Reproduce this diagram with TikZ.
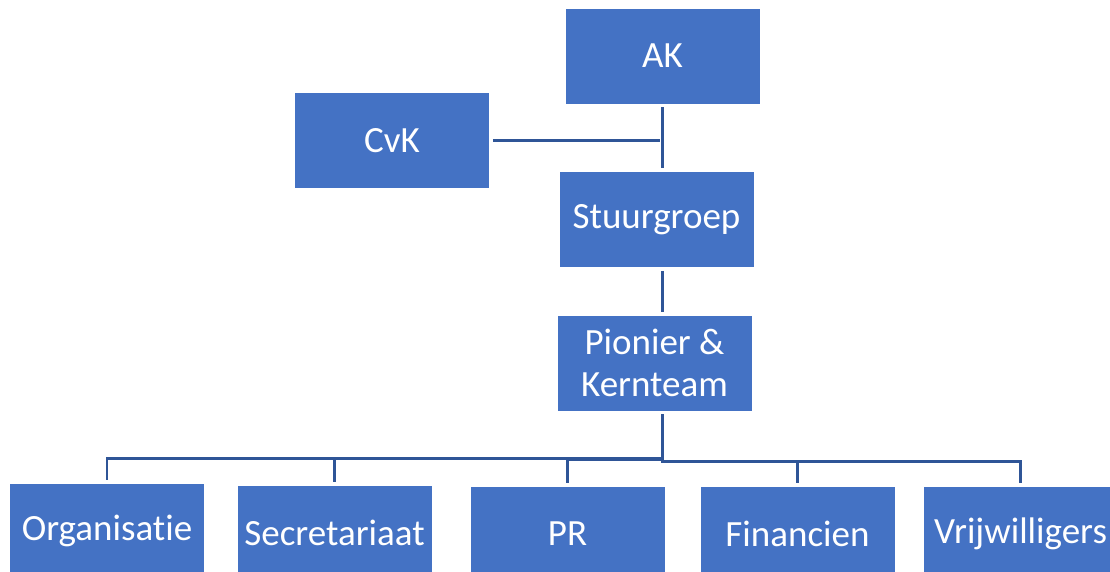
\documentclass[tikz,border=0pt]{standalone}
\usepackage{fontspec}
\setmainfont{Carlito}[Ligatures=NoCommon]
\usetikzlibrary{positioning}
\definecolor{boxblue}{HTML}{4472C4}
\definecolor{linkblue}{HTML}{2F5597}

\begin{document}
\begin{tikzpicture}[
    x=1pt, y=-1pt,
    every node/.style={font=\fontsize{37}{42}\selectfont},
    unit/.style={rectangle, fill=boxblue, draw=white, line width=0.6pt, text=white,
                 minimum width=195pt, minimum height=96pt, inner sep=2pt, align=center},
    link/.style={linkblue, line width=2.4pt, shorten <=3pt, shorten >=3pt}
]
    \clip (0,0) rectangle (1110,572);

    % === BOARD ===
    \node[unit] (ak) at (662.5,56) {AK};
    \node[unit] (cvk) at (392,140.5) {CvK};
    \node[unit] (stuur) at (656.5,219.5) {Stuurgroep};
    \node[unit] (pionier) at (654.5,363) {Pionier \&\\Kernteam};

    % === WORKGROUPS ===
    \node[unit] (org) at (107,531) {Organisatie};
    \node[unit] (secr) at (334.5,533) {Secretariaat};
    \node[unit] (pr) at (567.5,534) {PR};
    \node[unit] (fin) at (797.5,534) {Financien};
    \node[unit] (vrij) at (1020.5,534) {Vrijwilligers};

    % Spine from AK down to the core team
    \draw[link] (ak.south) -- (ak.south |- stuur.north);
    \draw[link] (cvk.east) -- (cvk.east -| ak.south);
    \draw[link] (ak.south |- stuur.south) -- (ak.south |- pionier.north);

    % Elbows to the workgroups
    \foreach \unit/\drop in {org/47, secr/47, pr/48, fin/50, vrij/50} {
        \draw[link] (ak.south |- pionier.south) -- ++(0,\drop) -| (\unit.north);
    }
\end{tikzpicture}
\end{document}
